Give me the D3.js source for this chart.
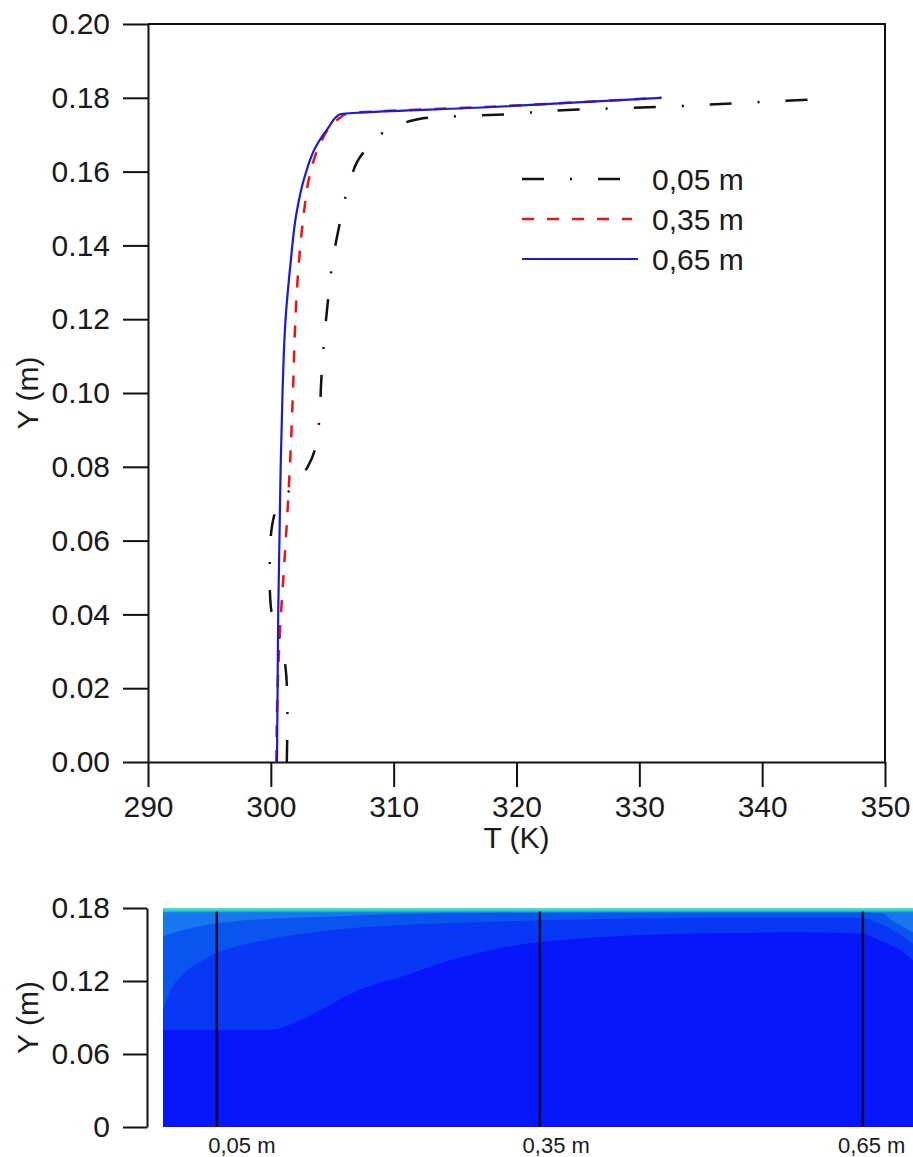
<!DOCTYPE html>
<html>
<head>
<meta charset="utf-8">
<script src="https://cdn.jsdelivr.net/npm/d3@7"></script>
<style>
body { margin: 0; background: #fff; }
svg text { font-family: "Liberation Sans", Arial, sans-serif; fill: #1a1a1a; }
.axis path, .axis line { stroke: #111; stroke-width: 2; }
</style>
</head>
<body>
<svg id="chart" width="913" height="1157"></svg>
<script>
// temperature profiles, [T (K), Y (m)]
const probe005 = [[301.3,0],[301.35,0.014],[301.3,0.021],[301.1,0.028],[300.6,0.035],[300.0,0.042],[299.9,0.05],[299.95,0.058],[300.1,0.064],[300.4,0.068],[301.6,0.074],[303.0,0.080],[303.7,0.086],[303.95,0.093],[304.1,0.103],[304.33,0.114],[304.65,0.125],[305.0,0.135],[305.55,0.145],[306.3,0.1556],[307.5,0.165],[309.6,0.1713],[312.5,0.1745],[319,0.1755],[325,0.1768],[331.5,0.1775],[337.7,0.1785],[345.2,0.1797]];
const probe035 = [[300.45,0],[300.55,0.02],[300.75,0.036],[301.0,0.049],[301.35,0.0675],[301.55,0.08],[301.8,0.10],[302.0,0.12],[302.25,0.134],[302.7,0.149],[303.1,0.158],[303.95,0.167],[304.8,0.172],[305.6,0.1745],[306.2,0.1757],[318,0.1776],[331.8,0.18]];
const probe065 = [[300.5,0],[300.55,0.02],[300.6,0.04],[300.7,0.06],[300.8,0.08],[300.95,0.10],[301.2,0.12],[301.6,0.135],[302.1,0.149],[302.7,0.158],[303.7,0.167],[304.7,0.172],[305.6,0.1755],[318,0.1775],[331.8,0.18]];
const seriesNames = ["0,05 m", "0,35 m", "0,65 m"];

const xTicks = [290, 300, 310, 320, 330, 340, 350];
const xMinor = [295, 305, 315, 325, 335, 345];
const yTicks = [0, 0.02, 0.04, 0.06, 0.08, 0.10, 0.12, 0.14, 0.16, 0.18, 0.20];
const yMinor = [0.01, 0.03, 0.05, 0.07, 0.09, 0.11, 0.13, 0.15, 0.17, 0.19];

// contour panel, x and y in metres
const contourTicks = [0, 0.06, 0.12, 0.18];
const contourMinor = [0.02, 0.04, 0.08, 0.10, 0.14, 0.16];
const probeX = [0.05, 0.35, 0.65];
const probeLabelX = [0.042, 0.334, 0.627];
// lower edge of each colour band (band fills up to the top)
const edgeC = [[0,0.0797],[0.097,0.0797],[0.128,0.088],[0.158,0.102],[0.189,0.115],[0.22,0.123],[0.266,0.137],[0.313,0.147],[0.35,0.152],[0.406,0.156],[0.499,0.159],[0.591,0.160],[0.647,0.159],[0.669,0.152],[0.685,0.145],[0.7,0.134]];
const edgeB = [[0,0.096],[0.007,0.112],[0.019,0.126],[0.035,0.136],[0.05,0.143],[0.097,0.154],[0.158,0.162],[0.22,0.166],[0.313,0.169],[0.406,0.171],[0.499,0.172],[0.647,0.172],[0.669,0.166],[0.685,0.158],[0.7,0.148]];
const edgeA = [[0,0.157],[0.019,0.162],[0.065,0.169],[0.158,0.173],[0.22,0.175],[0.313,0.176],[0.647,0.1765],[0.669,0.1755],[0.675,0.171],[0.685,0.166],[0.7,0.158]];
const bandColors = ["#0716fb", "#0838f5", "#0a55f0", "#1877ef"];

const svg = d3.select("#chart");

// ---------- top chart ----------
const x = d3.scaleLinear().domain([290, 350]).range([148, 885]);
const y = d3.scaleLinear().domain([0, 0.2]).range([762, 24]);

const gx = svg.append("g").attr("class", "axis").attr("transform", "translate(0," + y(0) + ")");
gx.call(d3.axisBottom(x).tickValues(xMinor).tickSize(12).tickSizeOuter(0).tickFormat(""));
gx.call(d3.axisBottom(x).tickValues(xTicks).tickSize(25).tickSizeOuter(0).tickPadding(9).tickFormat(d3.format("d")));
gx.selectAll("text").attr("font-size", 30);

const gy = svg.append("g").attr("class", "axis").attr("transform", "translate(" + x(290) + ",0)");
gy.call(d3.axisLeft(y).tickValues(yMinor).tickSize(12).tickSizeOuter(0).tickFormat(""));
gy.call(d3.axisLeft(y).tickValues(yTicks).tickSize(25).tickSizeOuter(0).tickPadding(13).tickFormat(d3.format(".2f")));
gy.selectAll("text").attr("font-size", 30);

// frame top and right
svg.append("path")
    .attr("d", "M" + x(290) + "," + y(0.2) + "H" + x(350) + "V" + y(0))
    .attr("fill", "none").attr("stroke", "#111").attr("stroke-width", 2);

svg.append("text").attr("x", (x(290) + x(350)) / 2).attr("y", 848)
    .attr("text-anchor", "middle").attr("font-size", 30).text("T (K)");
svg.append("text").attr("transform", "translate(38," + y(0.1) + ") rotate(-90)")
    .attr("text-anchor", "middle").attr("font-size", 30).text("Y (m)");

const line = d3.line().x(d => x(d[0])).y(d => y(d[1])).curve(d3.curveMonotoneY);

const series = [
    {data: probe005, color: "#111", width: 2.5, dash: "22,26,2,26"},
    {data: probe035, color: "#ee1111", width: 2.5, dash: "12,13"},
    {data: probe065, color: "#1a1adb", width: 2.2, dash: null}
];

series.forEach(function(s) {
    svg.append("path")
        .attr("d", line(s.data))
        .attr("fill", "none")
        .attr("stroke", s.color)
        .attr("stroke-width", s.width)
        .attr("stroke-dasharray", s.dash);
});

// legend
const legend = svg.append("g");
series.forEach(function(s, i) {
    const ly = 179 + i * 40;
    legend.append("line")
        .attr("x1", 522).attr("x2", 638 - (i === 0 ? 15 : i === 1 ? 6 : 0))
        .attr("y1", ly).attr("y2", ly)
        .attr("stroke", s.color).attr("stroke-width", s.width)
        .attr("stroke-dasharray", s.dash);
    legend.append("text")
        .attr("x", 652).attr("y", ly).attr("dy", "0.36em")
        .attr("font-size", 30).text(seriesNames[i]);
});

// ---------- contour panel ----------
const xc = d3.scaleLinear().domain([0, 0.7]).range([163, 916.7]);
const yc = d3.scaleLinear().domain([0, 0.18]).range([1127, 908]);

const band = d3.area().x(d => xc(d[0])).y0(yc(0.18)).y1(d => yc(d[1])).curve(d3.curveMonotoneX);

svg.append("rect")
    .attr("x", xc(0)).attr("y", yc(0.18))
    .attr("width", xc(0.7) - xc(0)).attr("height", yc(0) - yc(0.18))
    .attr("fill", bandColors[0]);
[edgeC, edgeB, edgeA].forEach(function(edge, i) {
    svg.append("path").attr("d", band(edge)).attr("fill", bandColors[i + 1]);
});

const grad = svg.append("defs").append("linearGradient")
    .attr("id", "stripe").attr("x1", 0).attr("x2", 0).attr("y1", 0).attr("y2", 1);
grad.append("stop").attr("offset", "0%").attr("stop-color", "#5cf0a0");
grad.append("stop").attr("offset", "50%").attr("stop-color", "#22d8d0");
grad.append("stop").attr("offset", "100%").attr("stop-color", "#1aa0ee");
svg.append("rect")
    .attr("x", xc(0)).attr("y", yc(0.18))
    .attr("width", xc(0.7) - xc(0)).attr("height", yc(0.1765) - yc(0.18))
    .attr("fill", "url(#stripe)");

svg.selectAll(".probe").data(probeX).enter().append("line")
    .attr("class", "probe")
    .attr("x1", d => xc(d)).attr("x2", d => xc(d))
    .attr("y1", yc(0.177)).attr("y2", yc(0))
    .attr("stroke", "#0b0b2a").attr("stroke-width", 2.5);

svg.selectAll(".probeLabel").data(probeLabelX).enter().append("text")
    .attr("class", "probeLabel")
    .attr("x", d => xc(d)).attr("y", 1153)
    .attr("font-size", 22).text((d, i) => seriesNames[i]);

const gc = svg.append("g").attr("class", "axis").attr("transform", "translate(147,0)");
gc.call(d3.axisLeft(yc).tickValues(contourMinor).tickSize(12).tickSizeOuter(0).tickFormat(""));
gc.call(d3.axisLeft(yc).tickValues(contourTicks).tickSize(24).tickSizeOuter(0).tickPadding(13)
    .tickFormat(d => d === 0 ? "0" : d3.format(".2f")(d)));
gc.selectAll("text").attr("font-size", 30);

svg.append("text").attr("transform", "translate(38," + yc(0.09) + ") rotate(-90)")
    .attr("text-anchor", "middle").attr("font-size", 30).text("Y (m)");
</script>
</body>
</html>
